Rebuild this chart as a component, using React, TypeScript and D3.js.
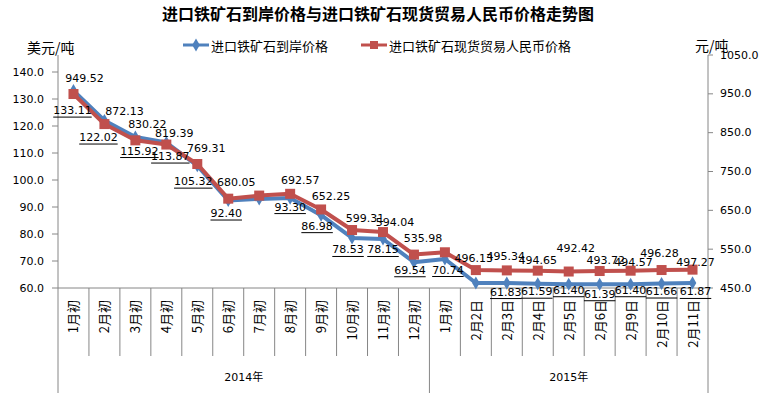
import React from 'react';
import * as d3 from 'd3';

// categories and values
const categories = [
  '1月初', '2月初', '3月初', '4月初', '5月初', '6月初', '7月初', '8月初', '9月初', '10月初', '11月初', '12月初',
  '1月初', '2月2日', '2月3日', '2月4日', '2月5日', '2月6日', '2月9日', '2月10日', '2月11日',
];
const yearLabels = ['2014年', '2015年'];
const yearCounts = [12, 9];

const usdPrice = [
  133.11, 122.02, 115.92, 113.87, 105.32, 92.4, 93.0, 93.3, 86.98, 78.53, 78.15, 69.54,
  70.74, 61.85, 61.83, 61.59, 61.4, 61.39, 61.4, 61.66, 61.87,
];
const cnyPrice = [
  949.52, 872.13, 830.22, 819.39, 769.31, 680.05, 688.0, 692.57, 652.25, 599.31, 594.04, 535.98,
  542.0, 496.13, 495.34, 494.65, 492.42, 493.72, 494.57, 496.28, 497.27,
];
// points whose label is not shown in the reference
const usdHidden = [6, 13];
const cnyHidden = [6, 12];

const usdTicks = [60, 70, 80, 90, 100, 110, 120, 130, 140];
const cnyTicks = [450, 550, 650, 750, 850, 950, 1050];

const title = '进口铁矿石到岸价格与进口铁矿石现货贸易人民币价格走势图';
const usdName = '进口铁矿石到岸价格';
const cnyName = '进口铁矿石现货贸易人民币价格';

// label nudges (px) relative to each point, as placed in the reference
const cnyNudge = [
  [11, -16], [20, -13], [12, -16], [8, -11], [9, -16], [8, -16], [0, 0], [10, -13], [10, -13], [13, -12], [12, -10],
  [9, -16], [0, 0], [-2, -12], [-1, -14], [0, -10], [7, -23], [6, -11], [3, -8], [-2, -17], [3, -7],
];
const usdNudge = [
  [-1, 20], [-6, 17], [4, 14], [4, 14], [-4, 16], [-2, 13], [0, 0], [0, 9], [-4, 11], [-4, 12], [0, 11],
  [-4, 8], [3, 11], [0, 0], [-1, 9], [-1, 8], [0, 6], [0, 10], [0, 6], [0, 8], [3, 9],
];

const BLUE = '#4F81BD';
const RED = '#C0504D';
const AXIS = '#868686';
const NUM_FONT = 'DejaVu Sans, Verdana, sans-serif';
const CJK_FONT = '"Noto Sans CJK SC", sans-serif';

// rough width of a number drawn in DejaVu Sans
const numWidth = (s: string, size: number) =>
  s.split('').reduce((w, ch) => w + (ch === '.' ? 0.318 : 0.636) * size, 0);

export default function App() {
  const W = 760, H = 396;
  const plot = { left: 58, right: 708, top: 55, bottom: 288 };

  const x = d3.scaleBand<number>()
    .domain(d3.range(categories.length))
    .range([plot.left, plot.right]);
  const cx = (i: number) => (x(i) as number) + x.bandwidth() / 2;
  const yL = d3.scaleLinear().domain([60, 60 + (plot.bottom - plot.top) / 2.7]).range([plot.bottom, plot.top]);
  const yR = d3.scaleLinear().domain([450, 1050]).range([plot.bottom, plot.top]);

  const usdLine = d3.line<number>().x((_, i) => cx(i)).y(d => yL(d));
  const cnyLine = d3.line<number>().x((_, i) => cx(i)).y(d => yR(d));
  const fmt = d3.format('.2f');
  const tickFmt = d3.format('.1f');

  // year group boundaries
  const bounds: number[] = [0];
  yearCounts.forEach(c => bounds.push(bounds[bounds.length - 1] + c));
  const edge = (i: number) => (i >= categories.length ? plot.right : (x(i) as number));

  const diamond = d3.symbol().type(d3.symbolDiamond).size(50)();

  return (
    <svg width={W} height={H} style={{ position: 'absolute', left: 0, top: 0, background: '#fff' }}>
      <rect width={W} height={H} fill="#fff" />
      <text x={378} y={20} textAnchor="middle" fontFamily={CJK_FONT} fontWeight="bold" fontSize={16} fill="#000">
        {title}
      </text>

      {/* legend */}
      <g fontFamily={CJK_FONT} fontSize={13} fill="#000">
        <line x1={183} x2={209} y1={45} y2={45} stroke={BLUE} strokeWidth={3} />
        <path d={diamond as string} transform="translate(196,45)" fill={BLUE} />
        <text x={211} y={45} dominantBaseline="central">{usdName}</text>
        <line x1={361} x2={387} y1={45} y2={45} stroke={RED} strokeWidth={3} />
        <rect x={370} y={41} width={8} height={8} fill={RED} />
        <text x={389} y={45} dominantBaseline="central">{cnyName}</text>
      </g>

      {/* axis units */}
      <text x={27} y={47} fontFamily={CJK_FONT} fontSize={14} dominantBaseline="central">美元/吨</text>
      <text x={695} y={45} fontFamily={CJK_FONT} fontSize={14} dominantBaseline="central">元/吨</text>

      {/* left axis */}
      <line x1={plot.left} x2={plot.left} y1={plot.top} y2={393} stroke={AXIS} />
      {usdTicks.map(t => (
        <g key={'l' + t}>
          <line x1={plot.left - 6} x2={plot.left} y1={yL(t)} y2={yL(t)} stroke={AXIS} />
          <text x={44} y={yL(t)} textAnchor="end" dominantBaseline="central" fontFamily={NUM_FONT} fontSize={11}>
            {tickFmt(t)}
          </text>
        </g>
      ))}

      {/* right axis */}
      <line x1={plot.right} x2={plot.right} y1={plot.top} y2={393} stroke={AXIS} />
      {cnyTicks.map(t => (
        <g key={'r' + t}>
          <line x1={plot.right} x2={plot.right + 5} y1={yR(t)} y2={yR(t)} stroke={AXIS} />
          <text x={720} y={yR(t)} dominantBaseline="central" fontFamily={NUM_FONT} fontSize={11}>
            {tickFmt(t)}
          </text>
        </g>
      ))}

      {/* category axis */}
      <line x1={plot.left} x2={plot.right} y1={plot.bottom} y2={plot.bottom} stroke={AXIS} />
      {d3.range(1, categories.length).map(i => (
        <line key={'s' + i} x1={edge(i)} x2={edge(i)} y1={plot.bottom}
          y2={bounds.includes(i) ? 393 : 356} stroke={AXIS} />
      ))}
      {categories.map((c, i) => (
        <text key={'c' + i} transform={`translate(${cx(i) + 5},300) rotate(-90)`} textAnchor="end"
          fontFamily={CJK_FONT} fontSize={13} fill="#000">
          {c}
        </text>
      ))}
      {yearLabels.map((yl, k) => (
        <text key={'y' + k} x={(edge(bounds[k]) + edge(bounds[k + 1])) / 2} y={377} textAnchor="middle"
          dominantBaseline="central" fontFamily={NUM_FONT + ', ' + CJK_FONT} fontSize={11}>
          {yl}
        </text>
      ))}

      {/* series */}
      <path d={usdLine(usdPrice) as string} fill="none" stroke={BLUE} strokeWidth={4} strokeLinejoin="round" />
      {usdPrice.map((v, i) => (
        <path key={'bd' + i} d={diamond as string} transform={`translate(${cx(i)},${yL(v)})`} fill={BLUE} />
      ))}
      <path d={cnyLine(cnyPrice) as string} fill="none" stroke={RED} strokeWidth={4} strokeLinejoin="round" />
      {cnyPrice.map((v, i) => (
        <rect key={'rs' + i} x={cx(i) - 5} y={yR(v) - 5} width={10} height={10} fill={RED} />
      ))}

      {/* data labels */}
      <g fontFamily={NUM_FONT} fontSize={11} fill="#000">
        {cnyPrice.map((v, i) => cnyHidden.includes(i) ? null : (
          <text key={'rl' + i} x={cx(i) + cnyNudge[i][0]} y={yR(v) + cnyNudge[i][1]} textAnchor="middle"
            dominantBaseline="central">{fmt(v)}</text>
        ))}
        {usdPrice.map((v, i) => {
          if (usdHidden.includes(i)) return null;
          const lx = cx(i) + usdNudge[i][0];
          const ly = yL(v) + usdNudge[i][1];
          const w = numWidth(fmt(v), 11);
          return (
            <g key={'bl' + i}>
              <text x={lx} y={ly} textAnchor="middle" dominantBaseline="central">{fmt(v)}</text>
              <line x1={lx - w / 2} x2={lx + w / 2} y1={ly + 6.5} y2={ly + 6.5} stroke="#000" strokeWidth={1} />
            </g>
          );
        })}
      </g>
    </svg>
  );
}
